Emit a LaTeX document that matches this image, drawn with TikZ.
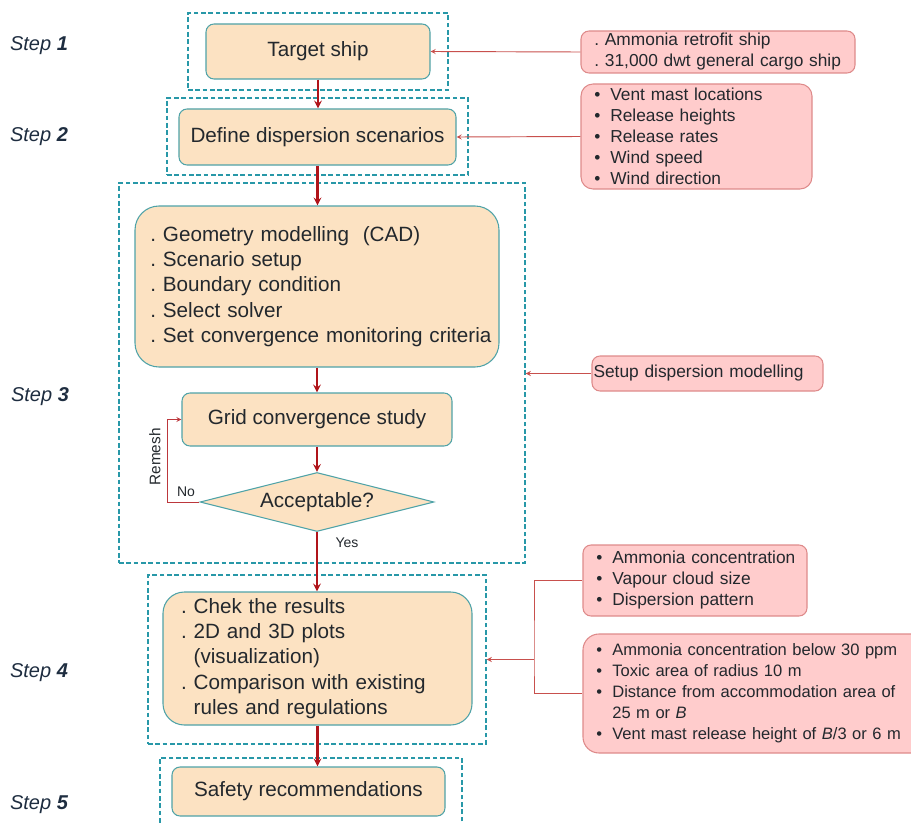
\documentclass[tikz,border=0pt]{standalone}
\usepackage{fontspec}
\setmainfont{Liberation Sans}
\usetikzlibrary{shapes.geometric}
\definecolor{boxfill}{HTML}{FCE2C2}
\definecolor{boxline}{HTML}{4FA3A8}
\definecolor{notefill}{HTML}{FFCCCC}
\definecolor{noteline}{HTML}{DE8A8A}
\definecolor{framecol}{HTML}{2898A8}
\definecolor{flowred}{HTML}{B0141A}
\definecolor{linkred}{HTML}{C8504D}
\definecolor{txt}{HTML}{23282D}
\definecolor{stepcol}{HTML}{1E2D40}
\newcommand{\bul}[1]{\mbox{\makebox[12pt][l]{\textbullet}#1}}
\newcommand{\bulhang}[1]{\mbox{\hspace*{12pt}#1}}
\newcommand{\dotit}[1]{\mbox{.\ #1}}
\newcommand{\hangit}[1]{\mbox{\phantom{.}\ #1}}
\tikzset{>=stealth,
  task/.style={draw=boxline, fill=boxfill, line width=0.8pt, rounded corners=6pt,
    text=txt, font=\fontsize{15.5}{19}\selectfont, inner sep=0pt},
  note/.style={draw=noteline, fill=notefill, line width=0.8pt, rounded corners=6pt,
    text=txt, font=\fontsize{13}{15.75}\selectfont, align=left, inner xsep=10pt, inner ysep=0pt},
  stepframe/.style={draw=framecol, line width=1.1pt, dash pattern=on 3.5pt off 2pt},
  steplabel/.style={text=stepcol, font=\fontsize{15}{18}\selectfont\itshape},
  small/.style={text=txt, font=\fontsize{10.5}{12}\selectfont},
  flow/.style={->, draw=flowred, line width=1.6pt},
  link/.style={->, draw=linkred, line width=0.7pt},
  linkline/.style={draw=linkred, line width=0.7pt}
}

\begin{document}
\begin{tikzpicture}[x=0.75pt, y=-0.75pt]
\useasboundingbox (0,0) rectangle (911,824);
% step frames
\node[stepframe, minimum width=195pt, minimum height=57.75pt] (s1) at (318,51.5) {};
\node[stepframe, minimum width=225.75pt, minimum height=57.75pt] (s2) at (317.5,136.5) {};
\node[stepframe, minimum width=304.5pt, minimum height=285pt] (s3) at (322,373) {};
\node[stepframe, minimum width=253.5pt, minimum height=126.75pt] (s4) at (317,659.5) {};
\node[stepframe, minimum width=226.5pt, minimum height=63pt] (s5) at (311,800) {};

\node[steplabel] (l1) at (39,46) {Step \textbf{1}};
\node[steplabel] (l2) at (39,137) {Step \textbf{2}};
\node[steplabel] (l3) at (40,397) {Step \textbf{3}};
\node[steplabel] (l4) at (39,673) {Step \textbf{4}};
\node[steplabel] (l5) at (39,805) {Step \textbf{5}};

% main flow
\node[task, minimum width=168pt, minimum height=41.25pt] (target) at (318,51.5) {Target ship};
\node[task, minimum width=207.75pt, minimum height=42pt] (define) at (317.5,137) {Define dispersion scenarios};
\node[task, rounded corners=18pt, minimum width=273pt, minimum height=120.75pt,
  align=left, text width=250pt, inner xsep=11.5pt] (geo) at (317,286.5)
  {\dotit{Geometry modelling \ (CAD)}\\ \dotit{Scenario setup}\\ \dotit{Boundary condition}\\
   \dotit{Select solver}\\ \dotit{Set convergence monitoring criteria}};
\node[task, minimum width=202.5pt, minimum height=39.75pt] (grid) at (317,419.5) {Grid convergence study};
\node[task, shape=diamond, aspect=4, minimum width=175.5pt, minimum height=44.25pt,
  rounded corners=0pt] (dia) at (317,502) {Acceptable?};
\node[task, rounded corners=16pt, minimum width=231.75pt, minimum height=99.75pt,
  align=left, text width=204.75pt, inner xsep=13.5pt] (res) at (317.5,658.5)
  {\dotit{Chek the results}\\ \dotit{2D and 3D plots}\\ \hangit{(visualization)}\\
   \dotit{Comparison with existing}\\ \hangit{rules and regulations}};
\node[task, minimum width=204.75pt, minimum height=36.75pt] (safety) at (308.5,791.5) {Safety recommendations};

\draw[flow] (target.south) -- (target.south |- define.north);
\draw[flow] (define.south) -- (define.south |- geo.north);
\draw[flow] (geo.south) -- (geo.south |- grid.north);
\draw[flow] (grid.south) -- (dia.north);
\draw[flow] (dia.south) -- (dia.south |- res.north);
\draw[flow] (res.south) -- (res.south |- safety.north);
\node[small] (yes) at (347,543) {Yes};
\draw[link, draw=flowred!85] (dia.west) -- ++(-32,0) |- (grid.west);
\node[small] (no) at (186,492) {No};
\node[small, rotate=90, font=\fontsize{11.5}{13}\selectfont] (remesh) at (155,457) {Remesh};

% notes on the right
\node[note, minimum width=205.5pt, minimum height=31.5pt, text width=185.5pt] (shipnote) at (718,52)
  {\dotit{Ammonia retrofit ship}\\ \dotit{31,000 dwt general cargo ship}};
\node[note, rounded corners=9pt, minimum width=173.25pt, minimum height=78.75pt, text width=153.25pt] (scennote) at (696.5,136.5)
  {\bul{Vent mast locations}\\ \bul{Release heights}\\ \bul{Release rates}\\ \bul{Wind speed}\\ \bul{Wind direction}};
\node[note, minimum width=173.25pt, minimum height=26.25pt, text width=171pt, inner xsep=1pt] (setupnote) at (707.5,373.5)
  {Setup dispersion modelling};
\node[note, minimum width=168pt, minimum height=53.25pt, text width=148pt] (outnote) at (695,580.5)
  {\bul{Ammonia concentration}\\ \bul{Vapour cloud size}\\ \bul{Dispersion pattern}};
\node[note, rounded corners=12pt, minimum width=258.75pt, minimum height=89.25pt, text width=238.75pt,
  font=\fontsize{12.4}{15.75}\selectfont] (critnote) at (755.5,693.5)
  {\bul{Ammonia concentration below 30 ppm}\\ \bul{Toxic area of radius 10 m}\\
   \bul{Distance from accommodation area of}\\ \bulhang{25 m or \textit{B}}\\
   \bul{Vent mast release height of \textit{B}/3 or 6 m}};

\draw[link] (shipnote.west) -- (target.east);
\draw[link] (scennote.west) -- (define.east);
\draw[link] (setupnote.west) -- (setupnote.west -| s3.east);
\coordinate (fork) at (534,659.5);
\draw[linkline] (outnote.west) -| (fork) |- (critnote.west);
\draw[link] (fork) -- (s4.east);
\end{tikzpicture}
\end{document}
